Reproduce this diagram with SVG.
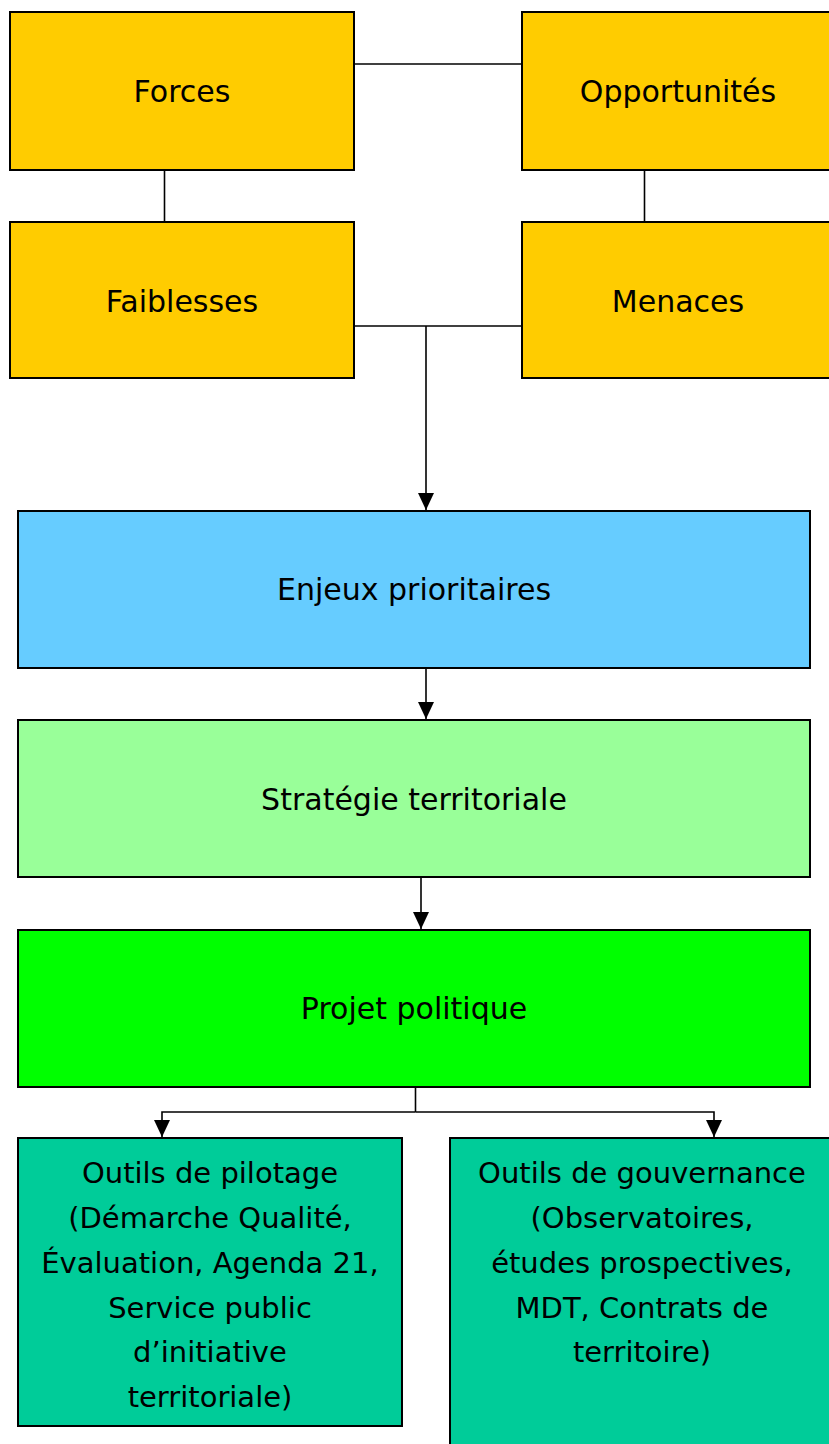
<svg xmlns="http://www.w3.org/2000/svg" width="829" height="1444" viewBox="0 0 829 1444">
<defs>
<style>
.box{stroke:#000;stroke-width:2}
.t{font-family:"Comic Sans MS","DejaVu Sans","Noto Sans",sans-serif;font-size:30px;fill:#000;text-anchor:middle}
.s{font-size:29px}
.c{stroke:#000;stroke-width:1.6;fill:none}
</style>
<marker id="arr" markerWidth="17" markerHeight="16" refX="17" refY="8" orient="auto" markerUnits="userSpaceOnUse" viewBox="0 0 17 16">
<path d="M0,0 L17,8 L0,16 Z" fill="#000"/>
</marker>
</defs>
<rect width="829" height="1444" fill="#fff"/>
<g id="connectors">
<line class="c" x1="354" y1="64" x2="522" y2="64"/>
<line class="c" x1="164.5" y1="170" x2="164.5" y2="222"/>
<line class="c" x1="644.5" y1="170" x2="644.5" y2="222"/>
<line class="c" x1="354" y1="326" x2="522" y2="326"/>
<line class="c" x1="426" y1="326" x2="426" y2="510" marker-end="url(#arr)"/>
<line class="c" x1="426" y1="668" x2="426" y2="719" marker-end="url(#arr)"/>
<line class="c" x1="421" y1="877" x2="421" y2="929" marker-end="url(#arr)"/>
<polyline class="c" points="415.5,1087 415.5,1112"/>
<polyline class="c" points="415.5,1112 162,1112 162,1137" marker-end="url(#arr)"/>
<polyline class="c" points="415.5,1112 714,1112 714,1137" marker-end="url(#arr)"/>
</g>
<g id="forces"><rect class="box" x="10" y="12" width="344" height="158" fill="#FFCC00"/><text class="t" x="182" y="102">Forces</text></g>
<g id="opportunites"><rect class="box" x="522" y="12" width="312" height="158" fill="#FFCC00"/><text class="t" x="678" y="102">Opportunités</text></g>
<g id="faiblesses"><rect class="box" x="10" y="222" width="344" height="156" fill="#FFCC00"/><text class="t" x="182" y="312">Faiblesses</text></g>
<g id="menaces"><rect class="box" x="522" y="222" width="312" height="156" fill="#FFCC00"/><text class="t" x="678" y="312">Menaces</text></g>
<g id="enjeux"><rect class="box" x="18" y="511" width="792" height="157" fill="#66CCFF"/><text class="t" x="414" y="600">Enjeux prioritaires</text></g>
<g id="strategie"><rect class="box" x="18" y="720" width="792" height="157" fill="#99FF99"/><text class="t" x="414" y="810">Stratégie territoriale</text></g>
<g id="projet"><rect class="box" x="18" y="930" width="792" height="157" fill="#00FF00"/><text class="t" x="414" y="1019">Projet politique</text></g>
<g id="pilotage"><rect class="box" x="18" y="1138" width="384" height="288" fill="#00CC99"/>
<text class="t s" x="210" y="1183">Outils de pilotage</text>
<text class="t s" x="210" y="1228">(Démarche Qualité,</text>
<text class="t s" x="210" y="1273">Évaluation, Agenda 21,</text>
<text class="t s" x="210" y="1318">Service public</text>
<text class="t s" x="210" y="1362">d’initiative</text>
<text class="t s" x="210" y="1407">territoriale)</text>
</g>
<g id="gouvernance"><rect class="box" x="450" y="1138" width="390" height="320" fill="#00CC99"/>
<text class="t s" x="642" y="1183">Outils de gouvernance</text>
<text class="t s" x="642" y="1228">(Observatoires,</text>
<text class="t s" x="642" y="1273">études prospectives,</text>
<text class="t s" x="642" y="1318">MDT, Contrats de</text>
<text class="t s" x="642" y="1362">territoire)</text>
</g>
</svg>
